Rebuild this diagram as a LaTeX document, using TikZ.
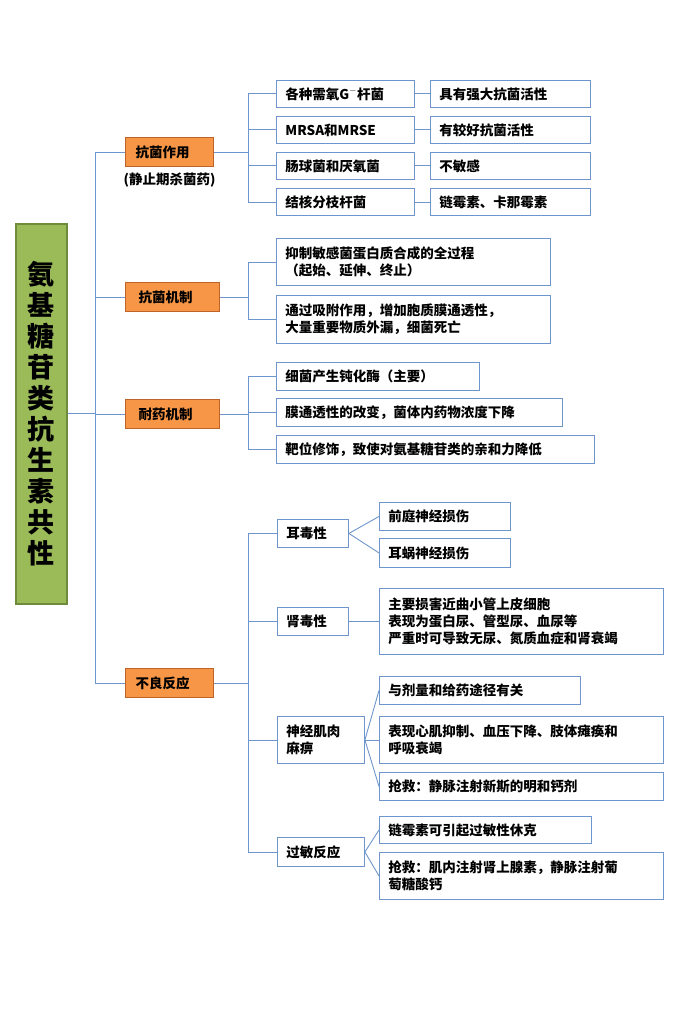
\documentclass[tikz,border=0pt]{standalone}
\usepackage{fontspec}
\setmainfont{Noto Sans CJK SC}
\usetikzlibrary{positioning}
\definecolor{lineblue}{RGB}{110,150,205}
\definecolor{orgfill}{RGB}{247,150,70}
\definecolor{orgdraw}{RGB}{190,100,40}
\definecolor{grnfill}{RGB}{155,187,89}
\definecolor{grndraw}{RGB}{110,140,60}

\begin{document}
\begin{tikzpicture}[
    x=1pt, y=-1pt,
    leaf/.style 2 args={rectangle, draw=lineblue, line width=0.9pt, anchor=north west,
        align=left, inner xsep=9pt, inner ysep=0pt, text width=#1-18pt, minimum height=#2,
        font=\fontsize{13.5}{17}\selectfont\bfseries},
    topic/.style={rectangle, draw=orgdraw, fill=orgfill, line width=1pt, anchor=north west,
        minimum width=88pt, minimum height=29pt, inner xsep=10pt, align=left,
        text width=68pt, font=\fontsize{13.5}{17}\selectfont\bfseries},
    link/.style={draw=lineblue, line width=0.9pt}
]
\useasboundingbox (0,0) rectangle (700,1011);

% root
\node[rectangle, draw=grndraw, fill=grnfill, line width=1.5pt, anchor=north west,
    minimum width=51pt, minimum height=380pt, align=center,
    font=\fontsize{27}{31}\selectfont\bfseries] (root) at (15,223)
    {氨\\基\\糖\\苷\\类\\抗\\生\\素\\共\\性};

% topics
\node[topic] (act) at (125,137) {抗菌作用};
\node[font=\fontsize{13.5}{17}\selectfont\bfseries, below=2pt of act] (actnote) {(静止期杀菌药)};
\node[topic, minimum width=94pt] (mech) at (125,282) {抗菌机制};
\node[topic, minimum width=94pt] (resist) at (125,399) {耐药机制};
\node[topic] (adv) at (125,668) {不良反应};

% 抗菌作用
\node[leaf={138pt}{27pt}] (a1) at (276,80) {各种需氧G$^{-}$杆菌};
\node[leaf={138pt}{27pt}] (a2) at (276,116) {MRSA和MRSE};
\node[leaf={138pt}{27pt}] (a3) at (276,152) {肠球菌和厌氧菌};
\node[leaf={138pt}{27pt}] (a4) at (276,188) {结核分枝杆菌};
\node[leaf={160pt}{27pt}] (b1) at (430,80) {具有强大抗菌活性};
\node[leaf={160pt}{27pt}] (b2) at (430,116) {有较好抗菌活性};
\node[leaf={160pt}{27pt}] (b3) at (430,152) {不敏感};
\node[leaf={160pt}{27pt}] (b4) at (430,188) {链霉素、卡那霉素};

% 抗菌机制
\node[leaf={274pt}{47pt}] (m1) at (276,238) {抑制敏感菌蛋白质合成的全过程\\（起始、延伸、终止）};
\node[leaf={274pt}{48pt}] (m2) at (276,295) {通过吸附作用，增加胞质膜通透性，\\大量重要物质外漏，细菌死亡};

% 耐药机制
\node[leaf={203pt}{28pt}] (r1) at (276,362) {细菌产生钝化酶（主要）};
\node[leaf={286pt}{28pt}] (r2) at (276,398) {膜通透性的改变，菌体内药物浓度下降};
\node[leaf={318pt}{28pt}] (r3) at (276,435) {靶位修饰，致使对氨基糖苷类的亲和力降低};

% 不良反应
\node[leaf={71pt}{28pt}] (ear) at (277,519) {耳毒性};
\node[leaf={71pt}{28pt}] (kid) at (277,607) {肾毒性};
\node[leaf={87pt}{47pt}] (nerve) at (277,716) {神经肌肉\\麻痹};
\node[leaf={87pt}{29pt}] (allergy) at (277,837) {过敏反应};

\node[leaf={131pt}{28pt}] (e1) at (379,502) {前庭神经损伤};
\node[leaf={131pt}{29pt}] (e2) at (379,538) {耳蜗神经损伤};
\node[leaf={284pt}{66pt}] (k1) at (379,588) {主要损害近曲小管上皮细胞\\表现为蛋白尿、管型尿、血尿等\\严重时可导致无尿、氮质血症和肾衰竭};
\node[leaf={201pt}{28pt}] (n1) at (379,676) {与剂量和给药途径有关};
\node[leaf={284pt}{47pt}] (n2) at (379,716) {表现心肌抑制、血压下降、肢体瘫痪和\\呼吸衰竭};
\node[leaf={284pt}{28pt}] (n3) at (379,772) {抢救：静脉注射新斯的明和钙剂};
\node[leaf={212pt}{27pt}] (g1) at (379,816) {链霉素可引起过敏性休克};
\node[leaf={284pt}{47pt}] (g2) at (379,852) {抢救：肌内注射肾上腺素，静脉注射葡\\萄糖酸钙};

% connectors
\coordinate (trunk) at (95,0);
\draw[link] (root.east) -- (root.east -| trunk);
\foreach \t in {act, mech, resist, adv}
    \draw[link] (\t.west) -- (\t.west -| trunk);
\draw[link] (act.west -| trunk) -- (adv.west -| trunk);

\coordinate (fork) at (248,0);
\foreach \p/\a/\z in {act/a1/a4, mech/m1/m2, resist/r1/r3, adv/ear/allergy}{
    \draw[link] (\p.east) -- (\p.east -| fork);
    \draw[link] (\a.west -| fork) -- (\z.west -| fork);
}
\foreach \c in {a1,a2,a3,a4,m1,m2,r1,r2,r3,ear,kid,nerve,allergy}
    \draw[link] (\c.west -| fork) -- (\c.west);
\foreach \l/\r in {a1/b1, a2/b2, a3/b3, a4/b4, kid/k1}
    \draw[link] (\l) -- (\r);
\foreach \p/\c in {ear/e1, ear/e2, nerve/n1, nerve/n2, nerve/n3, allergy/g1, allergy/g2}
    \draw[link] (\p.east) -- (\c.west);
\end{tikzpicture}
\end{document}
